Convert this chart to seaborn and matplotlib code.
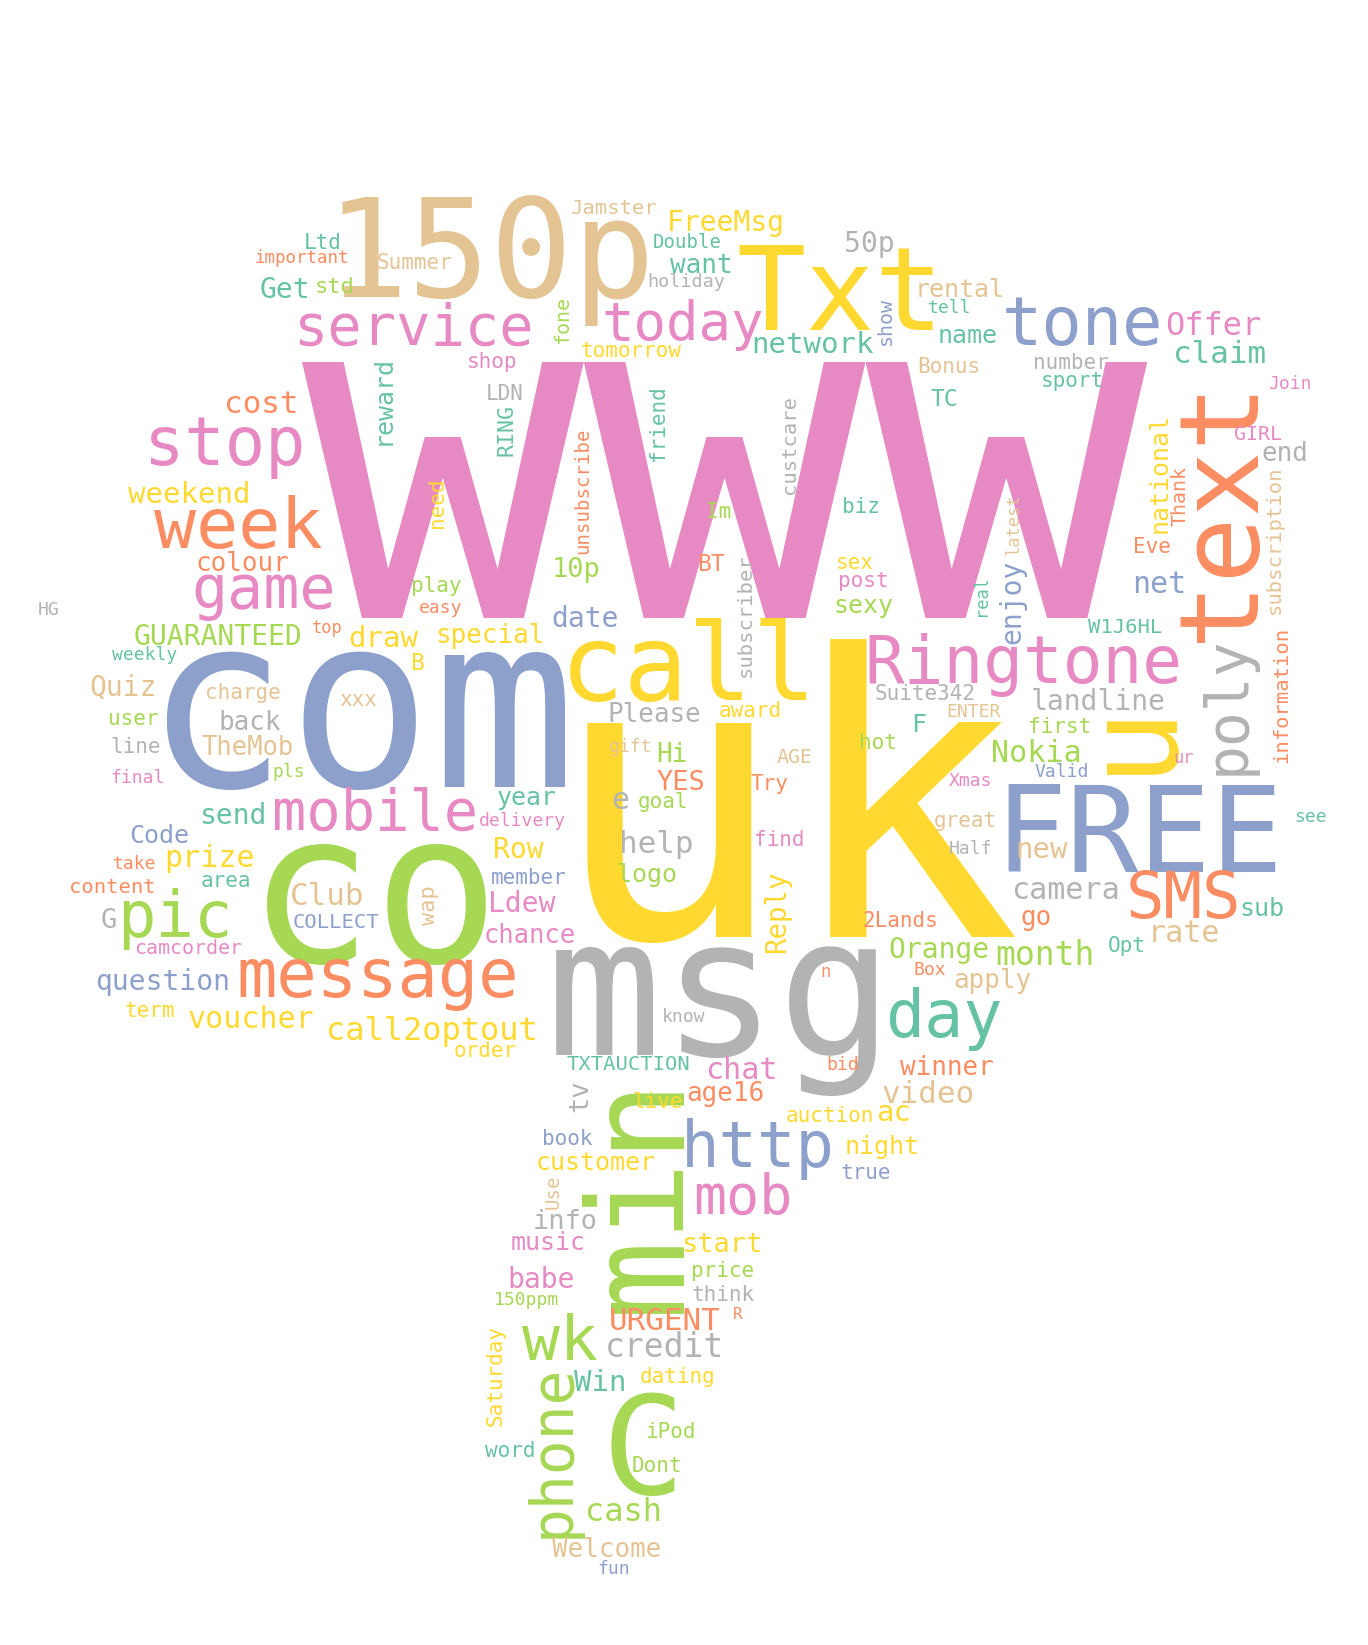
import matplotlib
matplotlib.use("Agg")
import matplotlib.pyplot as plt
import seaborn as sns

sns.set_style("white")
plt.rcParams['font.family'] = ['DejaVu Sans Mono', 'DejaVu Sans']

# words of the cloud, their font size (pixels per em) and Set2 colour index
# 0 teal, 1 orange, 2 blue, 3 pink, 4 green, 5 yellow, 6 tan, 7 gray
words = [
    # big words
    "www", "uk", "com", "co", "msg", "150p", "min", "C", "u", "FREE",
    "Txt", "text", "call", "week", "message", "stop", "tone", "Ringtone", "day", "pic",
    "SMS", "wk", "http", "game", "poly", "mobile", "service", "phone", "mob", "today",
    # upper left
    "Ltd", "important", "Summer", "Get", "std", "cost", "reward", "weekend", "need", "colour",
    "play", "easy", "HG",
    # upper middle
    "Jamster", "FreeMsg", "Double", "want", "holiday", "50p", "fone", "tomorrow", "network", "show",
    "shop", "LDN", "RING", "friend", "unsubscribe", "custcare", "Im", "biz", "10p", "BT",
    "subscriber", "sex", "post", "sexy", "date", "special",
    # upper right
    "rental", "tell", "name", "Offer", "claim", "Bonus", "number", "sport", "Join", "TC",
    "GIRL", "end", "national", "Thank", "subscription", "latest", "Eve", "enjoy", "net", "real",
    "W1J6HL",
    # middle left
    "GUARANTEED", "top", "draw", "weekly", "B", "Quiz", "charge", "xxx", "user", "back",
    "line", "TheMob", "final", "pls", "send", "Code", "take", "prize", "content", "area",
    "Club", "wap", "G", "COLLECT", "camcorder", "question", "term", "voucher", "call2optout", "order",
    # centre
    "Please", "award", "gift", "Hi", "YES", "AGE", "hot", "Try", "year", "e",
    "goal", "delivery", "Row", "help", "find", "logo", "member", "Reply", "Ldew", "chance",
    "2Lands", "n", "know", "TXTAUCTION", "chat", "bid", "Orange",
    # right
    "Suite342", "landline", "ENTER", "F", "first", "Nokia", "ur", "information", "Valid", "Xmas",
    "see", "great", "Half", "new", "camera", "sub", "go", "rate", "Opt", "month",
    "Box", "apply", "winner", "video", "auction", "ac", "night", "true",
    # lower stem
    "tv", "live", "age16", "book", "customer", "Use", "info", "music", "start", "price",
    "babe", "150ppm", "think", "URGENT", "R", "credit", "Win", "dating", "Saturday", "iPod",
    "word", "Dont", "cash", "Welcome", "fun",
]

sizes = [
    468, 392, 240, 210, 193, 137, 133, 138, 128, 120,
    115, 110, 107, 70, 67, 67, 67, 66, 65, 64,
    64, 63, 64, 60, 58, 57, 57, 58, 55, 54,
    21, 17.5, 21, 28, 22, 31, 25, 29, 21, 26,
    21, 18, 18,
    20.5, 28, 19, 26, 18.5, 28, 20, 21, 29, 20,
    21, 21, 21.5, 21, 19, 20.5, 21, 21, 27, 23,
    20.5, 21, 21, 25, 28, 26,
    25, 18, 25, 32, 31, 21, 21, 21, 18, 23,
    20, 26, 25, 20, 20.5, 17, 21, 28, 30, 17,
    20.5,
    28, 17, 29, 18, 23, 28, 21, 21, 21, 26,
    21, 25.5, 18, 18, 28, 25, 18, 30, 20.5, 21,
    31, 22, 27, 20.5, 20, 28, 21, 30, 32, 21,
    26, 21, 18, 26, 27, 20, 21, 21, 25, 30,
    21, 18, 28, 31, 21, 25, 21, 27.5, 28, 25.5,
    21, 17, 18, 20.5, 30, 18, 28,
    21, 28, 18, 25, 21, 30, 17, 20.5, 18, 18,
    18, 21, 18, 29, 30, 25, 26, 30, 21, 33,
    18, 26, 26, 31, 21, 29, 25, 21,
    27, 21, 26, 21, 25, 19, 27, 25, 27, 21,
    28, 18, 21, 31, 16, 33, 29, 21, 21, 21,
    21, 21, 32, 26, 18,
]

colors = [
    3, 5, 2, 4, 7, 6, 4, 4, 5, 2,
    5, 1, 5, 1, 1, 3, 2, 3, 0, 4,
    1, 4, 2, 3, 7, 3, 3, 4, 3, 3,
    0, 1, 6, 0, 4, 1, 0, 5, 5, 1,
    4, 1, 7,
    6, 5, 0, 0, 7, 7, 4, 5, 0, 2,
    3, 7, 0, 0, 1, 7, 4, 0, 4, 1,
    7, 5, 3, 4, 2, 5,
    6, 0, 0, 3, 0, 6, 7, 0, 3, 0,
    3, 7, 5, 1, 6, 6, 1, 2, 2, 0,
    0,
    4, 1, 5, 0, 5, 6, 6, 6, 4, 7,
    7, 6, 3, 4, 0, 2, 1, 5, 1, 0,
    6, 6, 7, 2, 3, 2, 5, 5, 5, 5,
    7, 5, 6, 4, 1, 6, 4, 1, 0, 7,
    4, 3, 5, 7, 3, 4, 2, 5, 3, 3,
    1, 1, 7, 0, 3, 1, 4,
    7, 7, 6, 0, 4, 4, 3, 1, 2, 3,
    0, 6, 7, 6, 7, 0, 1, 6, 0, 4,
    1, 6, 1, 6, 5, 5, 5, 2,
    7, 5, 1, 2, 5, 6, 7, 3, 5, 4,
    3, 4, 7, 1, 1, 7, 0, 5, 5, 4,
    0, 4, 4, 6, 2,
]

# layout in image pixels: x centre, baseline y (for vertical words: baseline x, centre y)
x_pos = [
    725, 786, 360, 373, 720, 490, 678, 643, 1166, 1139,
    840, 1252, 689, 238, 378, 225, 1083, 1023, 944, 175,
    1183, 560, 758, 264, 1244, 375, 413, 569, 743, 683,
    323, 302, 414, 285, 335, 261, 390, 189, 443, 242,
    436, 441, 49,
    614, 726, 687, 701, 686, 869, 568, 631, 813, 891,
    492, 505, 513, 664, 588, 795, 719, 861, 576, 711,
    751, 855, 863, 863, 585, 490,
    960, 950, 968, 1213, 1220, 949, 1071, 1072, 1290, 944,
    1258, 1285, 1167, 1185, 1280, 1019, 1152, 1020, 1159, 986,
    1125,
    218, 327, 383, 145, 417, 123, 243, 358, 133, 250,
    136, 248, 137, 289, 233, 159, 135, 210, 112, 226,
    327, 435, 109, 336, 188, 163, 150, 251, 432, 485,
    654, 750, 631, 672, 681, 795, 878, 769, 527, 620,
    663, 522, 518, 656, 779, 647, 529, 785, 522, 530,
    900, 825, 684, 628, 741, 843, 939,
    925, 1098, 973, 919, 1060, 1036, 1184, 1287, 1062, 971,
    1311, 965, 971, 1042, 1065, 1262, 1036, 1184, 1127, 1045,
    930, 992, 947, 928, 830, 894, 882, 866,
    587, 658, 725, 567, 596, 559, 565, 548, 722, 723,
    541, 526, 723, 665, 738, 664, 600, 678, 502, 670,
    510, 657, 624, 607, 614,
]

y_pos = [
    618, 937, 787, 962, 1055, 297, 1193, 1494, 735, 872,
    330, 510, 700, 548, 997, 465, 345, 683, 1037, 937,
    918, 1360, 1167, 608, 705, 830, 345, 1451, 1214, 340,
    249, 263, 269, 298, 293, 413, 400, 503, 503, 571,
    592, 613, 615,
    214, 231, 248, 273, 287, 252, 320, 357, 353, 321,
    368, 400, 430, 423, 491, 445, 518, 513, 577, 571,
    615, 569, 587, 613, 627, 643,
    297, 313, 343, 335, 363, 373, 369, 387, 389, 406,
    440, 461, 473, 496, 540, 524, 553, 602, 593, 595,
    633,
    645, 633, 647, 660, 670, 696, 699, 706, 725, 730,
    753, 755, 783, 777, 824, 843, 869, 867, 893, 887,
    905, 905, 928, 928, 954, 990, 1017, 1028, 1040, 1057,
    722, 717, 752, 762, 790, 763, 749, 790, 805, 809,
    808, 826, 858, 853, 846, 882, 884, 912, 912, 943,
    927, 977, 1022, 1070, 1079, 1070, 958,
    700, 710, 717, 732, 733, 762, 763, 695, 777, 786,
    822, 827, 854, 858, 899, 916, 925, 942, 952, 965,
    975, 988, 1075, 1103, 1122, 1121, 1154, 1179,
    1096, 1108, 1101, 1145, 1170, 1192, 1229, 1250, 1252, 1277,
    1288, 1305, 1301, 1330, 1319, 1357, 1391, 1383, 1376, 1438,
    1457, 1472, 1521, 1557, 1574,
]

vertical = {"min", "u", "text", "poly", "phone", "reward", "need", "fone", "show", "RING",
            "friend", "unsubscribe", "custcare", "subscriber", "national", "Thank",
            "subscription", "latest", "enjoy", "real", "wap", "Reply", "information",
            "tv", "Use", "Saturday"}

palette = sns.color_palette("Set2", 8)

W, H = 1368, 1645
fig = plt.figure(figsize=(W / 100, H / 100), dpi=100)
ax = fig.add_axes([0, 0, 1, 1])
ax.set_xlim(0, W)
ax.set_ylim(H, 0)
ax.axis("off")

for word, size, c, x, y in zip(words, sizes, colors, x_pos, y_pos):
    rot = 90 if word in vertical else 0
    ax.text(x, y, word, fontsize=size * 0.72, color=palette[c],
            ha="center", va="baseline", rotation=rot, rotation_mode="anchor")

fig.savefig("out.png", dpi=100, facecolor="white")
